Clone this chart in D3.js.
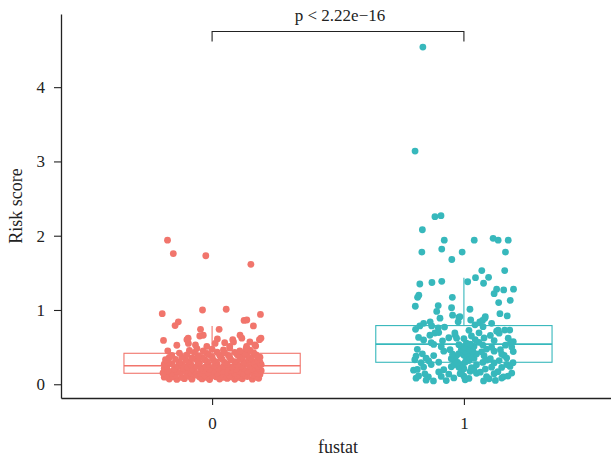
<!DOCTYPE html>
<html>
<head>
<meta charset="utf-8">
<script src="https://cdn.jsdelivr.net/npm/d3@7"></script>
<style>
  body { margin: 0; background: #fff; }
  text { font-family: "Liberation Serif", "Times New Roman", serif; fill: #222; }
</style>
</head>
<body>
<svg id="chart" width="611" height="462"></svg>
<script>
// categories and colours
const cats = ['0', '1'];
const colors = ['#F1756C', '#37B8BC'];

// box stats (per category)
const boxQ1 = [0.148, 0.296];
const boxMed = [0.25, 0.54];
const boxQ3 = [0.417, 0.79];
const whiskLo = [0.05, 0.045];
const whiskHi = [0.785, 1.435];

const yTicks = [0, 1, 2, 3, 4];
const pLabel = 'p < 2.22e\u221216';

// jittered points: [jitter (x units), risk score]
const pts0 = [
  [-0.177,1.94],[-0.154,1.76],[-0.025,1.73],[0.154,1.615],
  [-0.198,0.95],[-0.038,1.0],[0.056,1.01],[0.192,0.94],
  [-0.147,0.79],[-0.134,0.84],[-0.046,0.74],[-0.035,0.66],[-0.049,0.65],[0.028,0.74],
  [0.127,0.86],[0.138,0.865],[0.164,0.785],[-0.193,0.59],[-0.14,0.525],[-0.095,0.62],
  [0.111,0.66],[0.118,0.62],[0.194,0.62],[0.188,0.6],[0.021,0.61],[0.012,0.55],[0.082,0.6],
  [0.173,0.515],[-0.176,0.45],[-0.094,0.55],[-0.021,0.51],
  [-0.066,0.53],[-0.1,0.6],[0.05,0.56],[0.085,0.57],[0.07,0.51],[0.15,0.57],[0.17,0.53],[0.137,0.51],
  [-0.17,0.07],[-0.14,0.065],[-0.11,0.075],[-0.08,0.068],[-0.04,0.072],[-0.01,0.064],[0.03,0.07],[0.06,0.078],[0.09,0.066],[0.12,0.073],[0.16,0.069],[0.185,0.08],
  [-0.19,0.095],[-0.155,0.1],[-0.12,0.092],[-0.09,0.104],[-0.05,0.097],[-0.02,0.09],[0.015,0.101],[0.045,0.094],[0.075,0.099],[0.11,0.091],[0.14,0.103],[0.175,0.096],
  [-0.18,0.125],[-0.145,0.118],[-0.1,0.13],[-0.065,0.122],[-0.03,0.127],[0.0,0.12],[0.035,0.131],[0.07,0.124],[0.1,0.119],[0.13,0.128],[0.165,0.123],[0.19,0.13],
  [-0.195,0.152],[-0.16,0.148],[-0.125,0.157],[-0.085,0.15],[-0.05,0.145],[-0.015,0.155],[0.02,0.149],[0.055,0.158],[0.09,0.147],[0.12,0.153],[0.15,0.16],[0.18,0.146],
  [-0.175,0.182],[-0.14,0.176],[-0.105,0.185],[-0.07,0.179],[-0.035,0.188],[0.005,0.181],[0.04,0.174],[0.075,0.186],[0.105,0.18],[0.14,0.177],[0.17,0.189],[0.195,0.183],
  [-0.19,0.212],[-0.15,0.205],[-0.115,0.216],[-0.08,0.208],[-0.045,0.214],[-0.01,0.207],[0.025,0.218],[0.06,0.21],[0.095,0.204],[0.125,0.215],[0.16,0.209],[0.185,0.22],
  [-0.18,0.24],[-0.135,0.246],[-0.1,0.236],[-0.06,0.243],[-0.025,0.238],[0.01,0.248],[0.045,0.241],[0.08,0.235],[0.115,0.247],[0.15,0.239],[0.18,0.244],
  [-0.19,0.27],[-0.16,0.276],[-0.12,0.266],[-0.085,0.273],[-0.05,0.279],[-0.015,0.268],[0.02,0.275],[0.06,0.27],[0.1,0.264],[0.135,0.277],[0.17,0.271],[0.195,0.265],
  [-0.175,0.3],[-0.13,0.296],[-0.095,0.305],[-0.055,0.298],[-0.02,0.308],[0.015,0.301],[0.05,0.294],[0.09,0.306],[0.125,0.299],[0.16,0.303],[0.19,0.297],
  [-0.185,0.33],[-0.145,0.335],[-0.105,0.326],[-0.065,0.338],[-0.03,0.331],[0.005,0.324],[0.04,0.336],[0.075,0.329],[0.11,0.34],[0.145,0.332],[0.18,0.327],
  [-0.17,0.36],[-0.12,0.366],[-0.08,0.355],[-0.04,0.362],[0.0,0.37],[0.035,0.358],[0.07,0.365],[0.12,0.372],[0.155,0.357],[0.19,0.364],
  [-0.16,0.39],[-0.1,0.396],[-0.055,0.385],[-0.015,0.4],[0.03,0.392],[0.065,0.388],[0.1,0.398],[0.14,0.386],[0.175,0.394],
  [-0.13,0.42],[-0.07,0.428],[-0.02,0.415],[0.02,0.432],[0.05,0.422],[0.09,0.43],[0.13,0.418],[0.165,0.426],
  [-0.09,0.455],[-0.035,0.448],[0.045,0.462],[0.11,0.45],[0.15,0.458],
  [-0.06,0.48],[0.0,0.474],[0.07,0.486],[0.135,0.478]
];

const pts1 = [
  [-0.163,4.54],[-0.194,3.14],[-0.115,2.256],[-0.091,2.27],[-0.165,2.08],
  [-0.078,1.94],[0.041,1.94],[0.116,1.965],[0.136,1.94],[0.176,1.94],
  [-0.167,1.78],[-0.088,1.82],[-0.007,1.78],[-0.048,1.68],[0.165,1.78],
  [0.162,1.53],[0.071,1.53],[0.046,1.435],[0.015,1.38],[0.098,1.44],[0.078,1.36],
  [-0.175,1.35],[-0.127,1.37],[-0.088,1.386],[0.13,1.28],[0.12,1.22],[0.158,1.27],[0.197,1.28],
  [-0.179,1.2],[-0.184,1.17],[-0.046,1.17],[0.184,1.13],[0.138,1.1],[-0.193,1.05],
  [-0.102,1.06],[-0.108,0.98],[-0.049,1.03],[-0.045,0.93],[0.024,1.01],[0.143,0.95],[0.172,0.92],
  [-0.095,0.89],[-0.02,0.9],[0.085,0.91],[0.074,0.86],[0.027,0.865],
  [-0.192,0.74],[-0.175,0.785],[-0.134,0.84],[-0.128,0.785],[-0.102,0.76],[-0.077,0.77],[-0.18,0.63],
  [-0.16,0.82],[-0.016,0.91],[-0.023,0.84],[0.044,0.8],[0.063,0.84],[0.083,0.89],
  [0.076,0.775],[0.11,0.82],[0.136,0.73],[0.162,0.73],[0.182,0.73],[-0.135,0.66],[-0.115,0.69],
  [-0.036,0.69],[-0.029,0.62],[0.176,0.62],[0.196,0.575],[0.196,0.44],[0.19,0.5],[-0.195,0.33],
  [-0.2,0.19],[-0.141,0.1],[-0.121,0.045],[0.078,0.045],[0.157,0.1],[0.19,0.15],[0.183,0.24],
  [-0.15,0.055],[-0.07,0.05],[0.005,0.06],[0.125,0.052],
  [-0.19,0.082],[-0.04,0.085],[0.02,0.079],[0.1,0.074],[0.15,0.083],
  [-0.18,0.112],[-0.09,0.105],[0.0,0.108],[0.09,0.104],[0.175,0.11],
  [-0.155,0.14],[-0.06,0.136],[-0.015,0.143],[0.05,0.147],[0.12,0.142],
  [-0.1,0.165],[-0.01,0.168],[0.025,0.174],[0.065,0.163],[0.135,0.17],
  [-0.185,0.2],[-0.08,0.196],[0.0,0.21],[0.04,0.198],[0.085,0.205],
  [-0.16,0.232],[-0.05,0.236],[-0.02,0.228],[0.03,0.222],[0.11,0.23],[0.15,0.226],
  [-0.13,0.266],[-0.04,0.262],[-0.005,0.268],[0.05,0.264],[0.17,0.266],
  [-0.17,0.29],[-0.1,0.296],[-0.025,0.293],[0.005,0.298],[0.075,0.294],[0.12,0.287],[0.195,0.29],
  [-0.14,0.316],[-0.035,0.318],[0.02,0.32],[0.09,0.324],[0.14,0.319],
  [-0.15,0.35],[-0.05,0.345],[0.01,0.36],[0.04,0.348],[0.105,0.344],[0.17,0.352],
  [-0.19,0.38],[-0.12,0.386],[-0.03,0.383],[0.0,0.39],[0.03,0.378],[0.08,0.385],[0.16,0.388],
  [-0.165,0.41],[-0.045,0.405],[-0.02,0.413],[0.015,0.419],[0.05,0.408],[0.15,0.406],
  [-0.08,0.446],[0.005,0.443],[0.035,0.449],[0.07,0.437],[0.12,0.445],
  [-0.185,0.47],[-0.055,0.465],[-0.01,0.473],[0.02,0.479],[0.09,0.474],[0.145,0.466],
  [-0.09,0.506],[0.0,0.503],[0.04,0.509],[0.11,0.498],
  [-0.12,0.536],[-0.02,0.533],[0.025,0.539],[0.075,0.528],[0.165,0.526],
  [-0.13,0.56],[0.01,0.555],[0.06,0.563],[0.185,0.558],
  [-0.16,0.596],[-0.085,0.585],[0.045,0.599],[0.12,0.588],
  [-0.06,0.626],[0.0,0.615],[0.08,0.623],
  [-0.035,0.662],[0.03,0.65],[0.105,0.658],
  [-0.1,0.696],[0.06,0.693],[0.14,0.688],
  [0.02,0.726],[0.13,0.715]
];

const pointSets = [pts0, pts1];

const svg = d3.select('#chart');

const x = d3.scalePoint()
  .domain(cats)
  .range([61, 615])
  .padding(0.6);

const y = d3.scaleLinear()
  .domain([-0.185, 4.985])
  .range([398, 14]);

const step = x.step();
const boxW = step * 0.7;

// boxes (drawn under the points)
const boxes = svg.append('g').attr('class', 'boxes');
cats.forEach((c, i) => {
  const cx = x(c);
  const g = boxes.append('g')
    .style('stroke', colors[i])
    .style('stroke-width', 1.1)
    .style('fill', 'none');
  g.append('line')
    .attr('x1', cx).attr('x2', cx)
    .attr('y1', y(boxQ3[i])).attr('y2', y(whiskHi[i]));
  g.append('line')
    .attr('x1', cx).attr('x2', cx)
    .attr('y1', y(boxQ1[i])).attr('y2', y(whiskLo[i]));
  g.append('rect')
    .attr('x', cx - boxW / 2)
    .attr('y', y(boxQ3[i]))
    .attr('width', boxW)
    .attr('height', y(boxQ1[i]) - y(boxQ3[i]))
    .style('fill', '#fff');
  g.append('line')
    .attr('x1', cx - boxW / 2).attr('x2', cx + boxW / 2)
    .attr('y1', y(boxMed[i])).attr('y2', y(boxMed[i]))
    .style('stroke-width', 1.6);
});

// jittered points
const dots = svg.append('g').attr('class', 'dots');
pointSets.forEach((pts, i) => {
  dots.selectAll(`circle.g${i}`)
    .data(pts)
    .enter()
    .append('circle')
    .attr('class', `g${i}`)
    .attr('cx', (d) => x(cats[i]) + d[0] * step)
    .attr('cy', (d) => y(d[1]))
    .attr('r', 3.4)
    .style('fill', colors[i]);
});

// axes
const yAxis = svg.append('g')
  .attr('transform', 'translate(61,0)')
  .call(d3.axisLeft(y).tickValues(yTicks).tickFormat(d3.format('d'))
    .tickSize(7).tickPadding(9).tickSizeOuter(0));

const xAxis = svg.append('g')
  .attr('transform', 'translate(0,398)')
  .call(d3.axisBottom(x).tickSize(7).tickPadding(12).tickSizeOuter(0));

[yAxis, xAxis].forEach((a) => {
  a.select('.domain').style('stroke', '#222').style('stroke-width', 1.3);
  a.selectAll('.tick line').style('stroke', '#222').style('stroke-width', 1.1);
  a.selectAll('.tick text')
    .style('font-family', '"Liberation Serif", "Times New Roman", serif')
    .style('font-size', '17px')
    .style('fill', '#222');
});

// axis titles
svg.append('text')
  .attr('x', 338)
  .attr('y', 453)
  .attr('text-anchor', 'middle')
  .style('font-size', '18px')
  .text('fustat');

svg.append('text')
  .attr('transform', 'translate(22,206) rotate(-90)')
  .attr('text-anchor', 'middle')
  .style('font-size', '18px')
  .text('Risk score');

// significance bracket
const bracketY = 31.5;
svg.append('path')
  .attr('d', `M${x(cats[0])},${bracketY + 10}V${bracketY}H${x(cats[1])}V${bracketY + 10}`)
  .style('fill', 'none')
  .style('stroke', '#222')
  .style('stroke-width', 1.1);

svg.append('text')
  .attr('x', (x(cats[0]) + x(cats[1])) / 2 + 2)
  .attr('y', 20.5)
  .attr('text-anchor', 'middle')
  .style('font-size', '17px')
  .text(pLabel);
</script>
</body>
</html>
